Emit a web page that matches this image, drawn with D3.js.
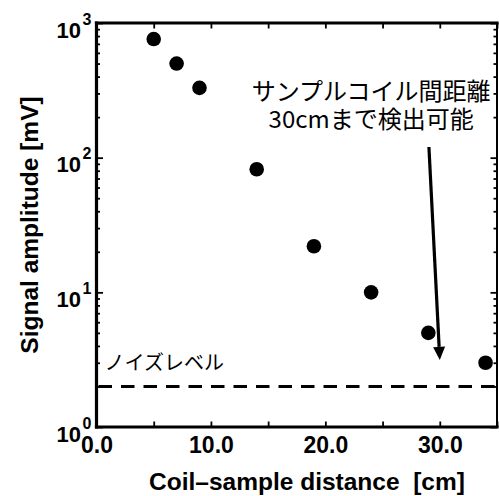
<!DOCTYPE html>
<html>
<head>
<meta charset="utf-8">
<style>
    body {
        margin: 0;
        background: white;
    }
    svg {
        display: block;
    }
    .lat {
        font-family: "Liberation Sans", Arial, sans-serif;
        font-weight: bold;
        fill: black;
    }
    .jp {
        font-family: "Noto Sans CJK JP", sans-serif;
        fill: black;
    }
</style>
</head>
<body>

<svg id="chart" width="499" height="496"></svg>

<script src="https://cdnjs.cloudflare.com/ajax/libs/d3/7.8.5/d3.min.js"></script>
<script>
    // values
    const distance = [5, 7, 9, 14, 19, 24, 29, 34];          // cm
    const amplitude = [760, 500, 330, 82, 22, 10, 5, 3];     // mV
    const noiseLevel = 2;                                     // mV
    const xTicks = [0, 5, 10, 15, 20, 25, 30, 35];
    const xLabels = ['0.0', '', '10.0', '', '20.0', '', '30.0', ''];
    const yDecades = [0, 1, 2, 3];
    const noteLines = ['サンプルコイル間距離', '30cmまで検出可能'];
    const noiseText = 'ノイズレベル';
    const xTitle = 'Coil\u2013sample distance\u00a0 [cm]';
    const yTitle = 'Signal amplitude [mV]';

    const svg = d3.select('#chart');

    const x = d3.scaleLinear().domain([0, 35]).range([96.5, 497]);
    const y = d3.scaleLog().domain([1, 1000]).range([427, 23]);

    const yMajor = yDecades.map(d => Math.pow(10, d));
    const yMinor = [];
    yDecades.slice(0, -1).forEach(d => {
        for (let k = 2; k <= 9; k++) yMinor.push(k * Math.pow(10, d));
    });

    // axes, ticks pointing inside
    function styleAxis(g) {
        g.select('.domain').remove();
        g.selectAll('.tick line').attr('stroke', 'black').attr('stroke-width', 1.8);
    }

    svg.append('g')
        .attr('transform', 'translate(0,427)')
        .call(d3.axisBottom(x).tickValues(xTicks).tickSize(-5.5).tickPadding(10)
            .tickFormat((d, i) => xLabels[i]))
        .call(styleAxis)
        .call(g => g.selectAll('text')
            .attr('class', 'lat')
            .attr('font-family', null)
            .style('font-size', '23px'));

    svg.append('g')
        .attr('transform', 'translate(0,23)')
        .call(d3.axisTop(x).tickValues(xTicks).tickSize(-5.5).tickFormat(''))
        .call(styleAxis);

    [[96.5, d3.axisLeft], [497, d3.axisRight]].forEach(([pos, ax]) => {
        svg.append('g')
            .attr('transform', `translate(${pos},0)`)
            .call(ax(y).tickValues(yMajor).tickSize(-6.5).tickFormat(''))
            .call(styleAxis);
        svg.append('g')
            .attr('transform', `translate(${pos},0)`)
            .call(ax(y).tickValues(yMinor).tickSize(-3.5).tickFormat(''))
            .call(styleAxis);
    });

    // 10^n labels
    const yl = svg.append('g').attr('class', 'lat');
    yMajor.forEach((v, i) => {
        yl.append('text')
            .attr('x', 81).attr('y', y(v) + 14.5)
            .attr('text-anchor', 'end')
            .style('font-size', '22px')
            .text('10');
        yl.append('text')
            .attr('x', 82.5).attr('y', y(v) + 1.5)
            .style('font-size', '16px')
            .text(yDecades[i]);
    });

    // frame
    const frame = svg.append('g').attr('stroke', 'black').attr('stroke-linecap', 'square');
    frame.append('line').attr('x1', x(0)).attr('x2', x(35)).attr('y1', y(1000)).attr('y2', y(1000)).attr('stroke-width', 3.2);
    frame.append('line').attr('x1', x(0)).attr('x2', x(35)).attr('y1', y(1)).attr('y2', y(1)).attr('stroke-width', 3.2);
    frame.append('line').attr('x1', x(0)).attr('x2', x(0)).attr('y1', y(1000)).attr('y2', y(1)).attr('stroke-width', 3.2);
    frame.append('line').attr('x1', x(35)).attr('x2', x(35)).attr('y1', y(1000)).attr('y2', y(1)).attr('stroke-width', 2);

    // noise level
    svg.append('line')
        .attr('x1', x(0) + 2).attr('x2', x(35))
        .attr('y1', y(noiseLevel)).attr('y2', y(noiseLevel))
        .attr('stroke', 'black').attr('stroke-width', 3)
        .attr('stroke-dasharray', '13.5,9');

    svg.append('text')
        .attr('class', 'jp')
        .attr('x', x(0.7)).attr('y', y(2.65))
        .style('font-size', '20px')
        .text(noiseText);

    // points
    svg.append('g')
        .selectAll('circle')
        .data(distance)
        .join('circle')
        .attr('cx', d => x(d))
        .attr('cy', (d, i) => y(amplitude[i]))
        .attr('r', 7.3)
        .attr('fill', 'black');

    // note, one text per line
    svg.append('g')
        .selectAll('text')
        .data(noteLines)
        .join('text')
        .attr('class', 'jp')
        .attr('text-anchor', 'middle')
        .style('font-size', '24px')
        .attr('x', x(24))
        .attr('y', (d, i) => i === 0 ? y(270) : y(165))
        .text(d => d);

    // arrow
    const x0 = x(29.05), y0 = y(120), x1 = x(30), y1 = y(3.15);
    const ang = Math.atan2(y1 - y0, x1 - x0);
    const headL = 13, headW = 6;
    const bx = x1 - headL * Math.cos(ang), by = y1 - headL * Math.sin(ang);
    svg.append('line')
        .attr('x1', x0).attr('y1', y0).attr('x2', bx).attr('y2', by)
        .attr('stroke', 'black').attr('stroke-width', 3.2);
    svg.append('path')
        .attr('d', d3.line()([
            [x1, y1],
            [bx - headW * Math.sin(ang), by + headW * Math.cos(ang)],
            [bx + headW * Math.sin(ang), by - headW * Math.cos(ang)]
        ]) + 'Z')
        .attr('fill', 'black');

    // titles
    svg.append('text')
        .attr('class', 'lat')
        .attr('x', 307).attr('y', 490)
        .attr('text-anchor', 'middle')
        .style('font-size', '24.5px')
        .text(xTitle);

    svg.append('text')
        .attr('class', 'lat')
        .attr('transform', 'translate(38,225) rotate(-90)')
        .attr('text-anchor', 'middle')
        .style('font-size', '24.5px')
        .text(yTitle);
</script>

</body>
</html>
